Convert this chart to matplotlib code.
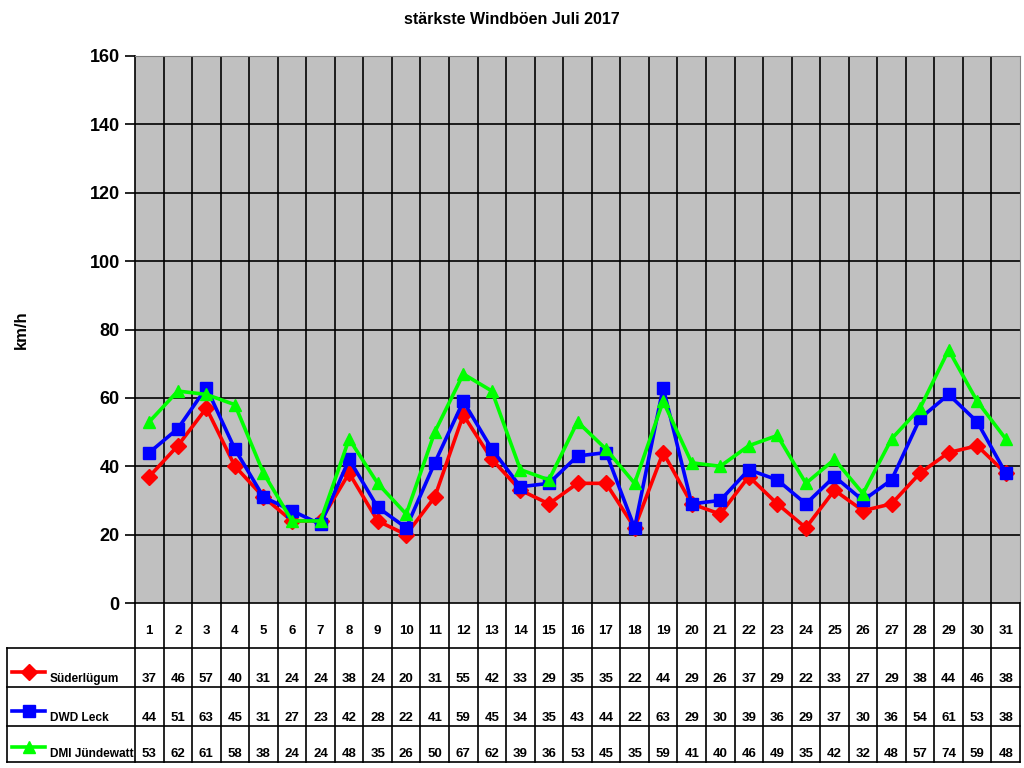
import matplotlib
matplotlib.use("Agg")
import matplotlib.pyplot as plt
from matplotlib.transforms import blended_transform_factory
from matplotlib.lines import Line2D

plt.rcParams['font.family'] = ['Liberation Sans', 'DejaVu Sans']

days = list(range(1, 32))
suederluegum = [37, 46, 57, 40, 31, 24, 24, 38, 24, 20, 31, 55, 42, 33, 29, 35,
                35, 22, 44, 29, 26, 37, 29, 22, 33, 27, 29, 38, 44, 46, 38]
dwd_leck = [44, 51, 63, 45, 31, 27, 23, 42, 28, 22, 41, 59, 45, 34, 35, 43,
            44, 22, 63, 29, 30, 39, 36, 29, 37, 30, 36, 54, 61, 53, 38]
dmi_juendewatt = [53, 62, 61, 58, 38, 24, 24, 48, 35, 26, 50, 67, 62, 39, 36, 53,
                  45, 35, 59, 41, 40, 46, 49, 35, 42, 32, 48, 57, 74, 59, 48]

series = [
    ("Süderlügum", suederluegum, "#FF0000", "D", 8),
    ("DWD Leck", dwd_leck, "#0000FF", "s", 9),
    ("DMI Jündewatt", dmi_juendewatt, "#00FF00", "^", 9),
]

W, H = 1024, 768
fig = plt.figure(figsize=(W / 100, H / 100), dpi=100)
x0, x1, ytop, ybot = 135, 1020, 56, 603
ax = fig.add_axes([x0 / W, 1 - ybot / H, (x1 - x0) / W, (ybot - ytop) / H])
ax.set_facecolor("#C0C0C0")

for z, (name, vals, col, mk, ms) in enumerate(series):
    ax.plot(days, vals, color=col, lw=2.6, marker=mk, ms=ms, mfc=col, mec=col,
            zorder=3 + z, clip_on=False)

ax.set_xlim(0.5, 31.5)
ax.set_ylim(0, 160)
ax.set_yticks(range(0, 161, 20))
ax.set_xticks([])
for v in range(20, 161, 20):
    ax.axhline(v, color="black", lw=1.2, zorder=1)
for k in range(1, 31):
    ax.axvline(k + 0.5, color="black", lw=1.2, zorder=1)
ax.tick_params(axis="y", direction="out", length=7, width=1.2, labelsize=13, pad=4)
for lab in ax.get_yticklabels():
    lab.set_fontweight("bold")
for s in ["top", "right"]:
    ax.spines[s].set_color("#808080")
ax.spines["left"].set_linewidth(1.2)
ax.spines["bottom"].set_linewidth(1.2)
ax.set_ylabel("km/h", fontsize=12, fontweight="bold")
ax.yaxis.set_label_coords(-0.12, 0.5)

fig.text(0.5, 1 - 20 / H, "stärkste Windböen Juli 2017", ha="center", va="center",
         fontsize=11.5, fontweight="bold")

# data table below the plot
tr = blended_transform_factory(ax.transData, ax.transAxes)
ph = ybot - ytop
def yf(py):
    return (ybot - py) / ph

cw = (x1 - x0) / 31
xleft = 0.5 - (x0 - 7) / cw
row_lines = [648, 687, 726, 762]
kw = dict(transform=tr, color="black", lw=1.2, clip_on=False)
for k in range(0, 32):
    ax.add_line(Line2D([k + 0.5, k + 0.5], [yf(ybot), yf(762)], **kw))
for py in row_lines:
    ax.add_line(Line2D([xleft, 31.5], [yf(py), yf(py)], **kw))
ax.add_line(Line2D([xleft, xleft], [yf(648), yf(762)], **kw))

for d in days:
    ax.text(d, yf(631), str(d), transform=tr, ha="center", va="center",
            fontsize=9.5, fontweight="bold", clip_on=False)

for i, (name, vals, col, mk, ms) in enumerate(series):
    top, bot = row_lines[i], row_lines[i + 1]
    base = bot - 5
    ly = bot - 15
    lx0 = xleft + 5 / cw
    lx1 = xleft + 38 / cw
    ax.add_line(Line2D([lx0, lx1], [yf(ly), yf(ly)], transform=tr, color=col,
                       lw=2.6, clip_on=False))
    ax.add_line(Line2D([(lx0 + lx1) / 2], [yf(ly)], transform=tr, color=col,
                       marker=mk, ms=ms, mfc=col, mec=col, clip_on=False))
    ax.text(xleft + 43 / cw, yf(base), name, transform=tr, ha="left",
            va="baseline", fontsize=8.6, fontweight="bold", clip_on=False)
    for d, v in zip(days, vals):
        ax.text(d, yf(base), str(v), transform=tr, ha="center", va="baseline",
                fontsize=9.5, fontweight="bold", clip_on=False)

fig.savefig("out.png", dpi=100)
plt.close(fig)
